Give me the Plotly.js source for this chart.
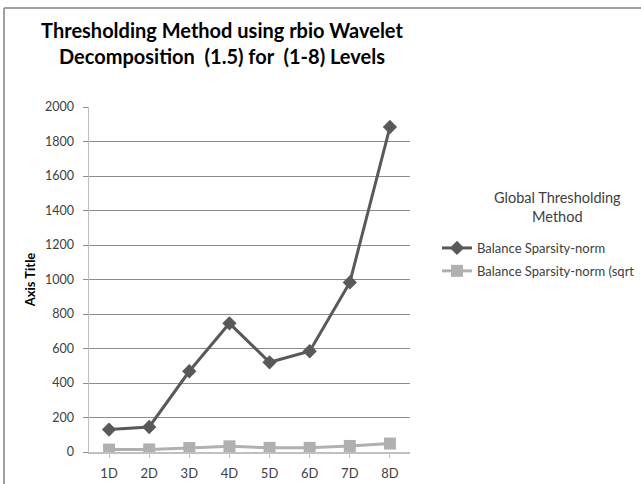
<!DOCTYPE html>
<html>
<head>
<meta charset="utf-8">
<script src="https://cdn.plot.ly/plotly-3.0.1.min.js"></script>
<style>html,body{margin:0;padding:0;background:#fff;}#chart{width:641px;height:484px;}</style>
</head>
<body>
<div id="chart"></div>
<script>
var categories = ["1D", "2D", "3D", "4D", "5D", "6D", "7D", "8D"];
var seriesNames = ["Balance Sparsity-norm", "Balance Sparsity-norm (sqrt"];
var balanceSparsity = [130, 145, 468, 746, 520, 584, 983, 1884];
var balanceSparsitySqrt = [14, 15, 23, 33, 24, 24, 35, 49];
var yTicks = [0, 200, 400, 600, 800, 1000, 1200, 1400, 1600, 1800, 2000];
var legendTitle = "Global Thresholding<br>Method";

var W = 641, H = 484;
var mL = 89, mR = 231, mT = 107, mB = 32;
var pw = W - mL - mR, ph = H - mT - mB;
function px(x) { return (x - mL) / pw; }
function py(y) { return (H - mB - y) / ph; }

var traces = [
  {
    x: categories, y: balanceSparsity, name: seriesNames[0], type: "scatter", mode: "lines+markers",
    legendgroup: "a",
    line: {color: "#595959", width: 3},
    marker: {symbol: "diamond", size: 11, color: "#595959"}
  },
  {
    x: categories, y: balanceSparsitySqrt, name: seriesNames[1], type: "scatter", mode: "lines+markers",
    legendgroup: "b",
    line: {color: "#b0b0b0", width: 3},
    marker: {symbol: "square", size: 12, color: "#b0b0b0"}
  }
];

var layout = {
  width: W, height: H,
  paper_bgcolor: "#ffffff", plot_bgcolor: "#ffffff",
  margin: {l: mL, r: mR, t: mT, b: mB, autoexpand: false},
  font: {family: "Lato, 'Open Sans', sans-serif", color: "#404040", size: 12},
  title: {
    text: "<b>Thresholding Method using rbio Wavelet<br>Decomposition  (1.5) for  (1-8) Levels</b>",
    font: {family: "Lato, sans-serif", size: 20, color: "#000000"},
    x: 222 / W, xref: "container", xanchor: "center",
    y: 1 - 38 / H, yref: "container", yanchor: "top"
  },
  xaxis: {
    type: "category", range: [-0.5, 7.5],
    showgrid: false, zeroline: false,
    showline: true, linecolor: "#c0c0c0", linewidth: 1.5,
    ticks: "outside", ticklen: 4, tickcolor: "#c0c0c0",
    tickfont: {size: 13, color: "#404040"},
    ticklabelstandoff: 5,
    fixedrange: true
  },
  yaxis: {
    range: [0, 2000], tickvals: yTicks,
    showgrid: true, gridcolor: "#8c8c8c", gridwidth: 1,
    zeroline: false,
    showline: true, linecolor: "#c0c0c0", linewidth: 1.5,
    ticks: "outside", ticklen: 5, tickcolor: "#8c8c8c",
    tickfont: {size: 12.5, color: "#404040"},
    ticklabelstandoff: 6,
    title: {text: "<b>Axis Title</b>", font: {size: 13, color: "#000000"}, standoff: 6},
    fixedrange: true
  },
  legend: {
    x: px(437), xref: "paper", xanchor: "left",
    y: py(233), yref: "paper", yanchor: "top",
    bgcolor: "rgba(0,0,0,0)",
    font: {size: 13, color: "#404040"},
    traceorder: "grouped",
    tracegroupgap: 3, itemwidth: 30
  },
  annotations: [
    {text: legendTitle, xref: "paper", yref: "paper", x: px(557), y: py(207),
     xanchor: "center", yanchor: "middle", showarrow: false, align: "center",
     font: {size: 14.5, color: "#404040"}}
  ],
  shapes: [
    {type: "line", xref: "paper", yref: "paper", x0: px(4), x1: px(641), y0: py(8), y1: py(8), line: {color: "#a0a0a0", width: 2}},
    {type: "line", xref: "paper", yref: "paper", x0: px(4), x1: px(4), y0: py(8), y1: py(484), line: {color: "#a0a0a0", width: 2}}
  ],
  showlegend: true
};

Plotly.newPlot("chart", traces, layout, {displayModeBar: false, staticPlot: true});
</script>
</body>
</html>
